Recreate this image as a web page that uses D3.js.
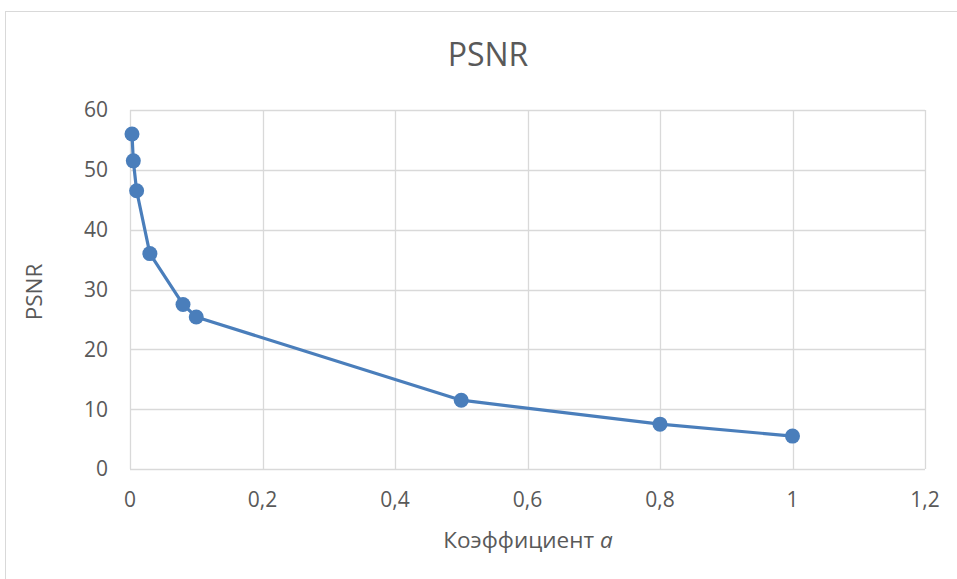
<!DOCTYPE html>
<html>
<head>
<meta charset="utf-8">
<script src="https://cdn.jsdelivr.net/npm/d3@7"></script>
<style>
  html, body { margin: 0; padding: 0; background: #fff; }
  svg { display: block; font-family: "Open Sans", "Liberation Sans", sans-serif; }
</style>
</head>
<body>
<svg id="chart" width="957" height="579"></svg>
<script>
// Coefficient a and resulting PSNR
const coefA = [0.003, 0.005, 0.01, 0.03, 0.08, 0.1, 0.5, 0.8, 1];
const psnr = [56, 51.5, 46.5, 36, 27.5, 25.4, 11.5, 7.5, 5.5];
const xTicks = [0, 0.2, 0.4, 0.6, 0.8, 1, 1.2];
const yTicks = [0, 10, 20, 30, 40, 50, 60];

const svg = d3.select("#chart");
const grid = "#d9d9d9";
const textCol = "#595959";
const lineCol = "#4a7ebb";

// chart frame
svg.append("rect")
  .attr("x", 5.5).attr("y", 11.5)
  .attr("width", 1000).attr("height", 1000)
  .attr("fill", "none").attr("stroke", grid);

const x = d3.scaleLinear().domain([0, 1.2]).range([130, 925]);
const y = d3.scaleLinear().domain([0, 60]).range([469, 110]);
const fmt = d => String(+d.toFixed(1)).replace(".", ",");

// horizontal gridlines
svg.append("g").selectAll("line").data(yTicks).join("line")
  .attr("x1", x(0)).attr("x2", x(1.2))
  .attr("y1", d => Math.round(y(d)) + 0.5).attr("y2", d => Math.round(y(d)) + 0.5)
  .attr("stroke", grid).attr("stroke-width", 1.3);

// vertical gridlines
svg.append("g").selectAll("line").data(xTicks).join("line")
  .attr("y1", y(0)).attr("y2", y(60))
  .attr("x1", d => Math.round(x(d)) + 0.5).attr("x2", d => Math.round(x(d)) + 0.5)
  .attr("stroke", grid).attr("stroke-width", 1.3);

// y tick labels
svg.append("g").selectAll("text").data(yTicks).join("text")
  .attr("x", 108).attr("y", d => y(d))
  .attr("dy", "0.35em").attr("text-anchor", "end")
  .attr("font-size", 21).attr("fill", textCol)
  .text(d => d);

// x tick labels
svg.append("g").selectAll("text").data(xTicks).join("text")
  .attr("x", d => x(d)).attr("y", 500)
  .attr("dy", "0.35em").attr("text-anchor", "middle")
  .attr("font-size", 21).attr("fill", textCol)
  .text(fmt);

// title
svg.append("text")
  .attr("x", 488).attr("y", 55).attr("dy", "0.35em")
  .attr("text-anchor", "middle")
  .attr("font-size", 32).attr("fill", textCol)
  .text("PSNR");

// axis titles
const xt = svg.append("text")
  .attr("x", 528).attr("y", 540).attr("dy", "0.35em")
  .attr("text-anchor", "middle")
  .attr("font-size", 22.5).attr("fill", textCol);
xt.append("tspan").text("Коэффициент ");
xt.append("tspan").attr("font-style", "italic").text("a");

svg.append("text")
  .attr("transform", "translate(34,292) rotate(-90)")
  .attr("dy", "0.35em")
  .attr("text-anchor", "middle")
  .attr("font-size", 22.5).attr("fill", textCol)
  .text("PSNR");

// series
const pts = coefA.map((a, i) => [a, psnr[i]]);
svg.append("path")
  .datum(pts)
  .attr("fill", "none").attr("stroke", lineCol)
  .attr("stroke-width", 3.2).attr("stroke-linejoin", "round")
  .attr("d", d3.line().x(d => x(d[0])).y(d => y(d[1])));

svg.append("g").selectAll("circle").data(pts).join("circle")
  .attr("cx", d => x(d[0])).attr("cy", d => y(d[1]))
  .attr("r", 7.5).attr("fill", lineCol);
</script>
</body>
</html>
